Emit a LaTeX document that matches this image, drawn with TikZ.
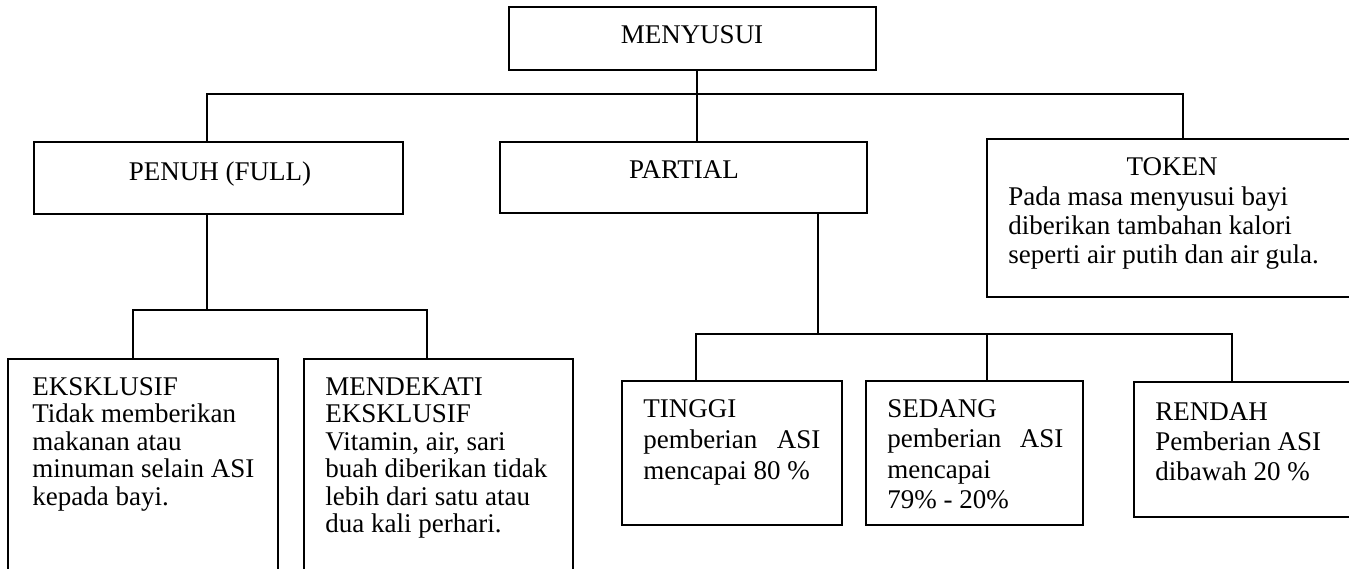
\documentclass[tikz,border=0pt]{standalone}
\usepackage{fontspec}
\setmainfont{Liberation Serif}
\usetikzlibrary{fit}
\begin{document}
\begin{tikzpicture}[x=0.5pt,y=-0.5pt,
  box/.style={draw=black,line width=1.25pt,inner sep=0pt,rectangle},
  conn/.style={draw=black,line width=1pt},
  lbl/.style={inner sep=0pt,font=\fontsize{13.5}{14.5}\selectfont},
  body/.style={inner sep=0pt,align=left,anchor=base west}]
\useasboundingbox (0,0) rectangle (1349,568);
\clip (0,0) rectangle (1349,568);
\fill[white] (0,0) rectangle (1349,568);
% boxes
\node[box,fit={(509,7) (876,70)}] (men) {};
\node[box,fit={(34,142) (403,214)}] (pen) {};
\node[box,fit={(500,142) (867,213)}] (par) {};
\node[box,fit={(987,139) (1357,297)}] (tok) {};
\node[box,fit={(8,359) (278,590)}] (eks) {};
\node[box,fit={(304,359) (573,590)}] (mde) {};
\node[box,fit={(622,381) (842,525)}] (tin) {};
\node[box,fit={(866,381) (1083,525)}] (sed) {};
\node[box,fit={(1134,382) (1362,517)}] (ren) {};
% labels (multi-line nodes: anchor at baseline of the last line)
\node[lbl,anchor=base] (tmen) at (692,43) {MENYUSUI};
\node[lbl,anchor=base] (tpen) at (220,180) {PENUH (FULL)};
\node[lbl,anchor=base] (tpar) at (684,178) {PARTIAL};
\node[lbl,anchor=base] (ttok) at (1172,175) {TOKEN};
\node[body,font=\fontsize{13.5}{14.5}\selectfont] (btok) at (1008,263)
  {Pada masa menyusui bayi\\diberikan tambahan kalori\\seperti air putih dan air gula.};
\node[body,font=\fontsize{13.5}{13.75}\selectfont] (beks) at (32,505)
  {EKSKLUSIF\\Tidak memberikan\\makanan atau\\minuman selain ASI\\kepada bayi.};
\node[body,font=\fontsize{13.5}{13.75}\selectfont] (bmde) at (325,532.5)
  {MENDEKATI\\EKSKLUSIF\\Vitamin, air, sari\\buah diberikan tidak\\lebih dari satu atau\\dua kali perhari.};
\node[body,font=\fontsize{13.5}{15.5}\selectfont] (btin) at (643,479)
  {TINGGI\\\makebox[88.5pt][s]{pemberian ASI}\\mencapai 80 \%};
\node[body,font=\fontsize{13.5}{15.25}\selectfont] (bsed) at (887,508.5)
  {SEDANG\\\makebox[88pt][s]{pemberian ASI}\\mencapai\\79\% - 20\%};
\node[body,font=\fontsize{13.5}{15}\selectfont] (bren) at (1155,480)
  {RENDAH\\Pemberian ASI\\dibawah 20 \%};
% connector junctions
\coordinate (jm) at (697,94);
\coordinate (bl) at (207,94);
\coordinate (br) at (1183,94);
\coordinate (pj) at (207,310);
\coordinate (pl) at (133,310);
\coordinate (pr) at (427,310);
\coordinate (qj) at (818,334);
\coordinate (ql) at (696,334);
\coordinate (qm) at (987,334);
\coordinate (qr) at (1232,334);
% connectors
\draw[conn] (jm |- men.south) -- (jm |- par.north);
\draw[conn] (bl |- pen.north) -- (bl) -- (br) -- (br |- tok.north);
\draw[conn] (pj |- pen.south) -- (pj);
\draw[conn] (pl |- eks.north) -- (pl) -- (pr) -- (pr |- mde.north);
\draw[conn] (qj |- par.south) -- (qj);
\draw[conn] (ql |- tin.north) -- (ql) -- (qr) -- (qr |- ren.north);
\draw[conn] (qm) -- (qm |- sed.north);
\end{tikzpicture}
\end{document}
